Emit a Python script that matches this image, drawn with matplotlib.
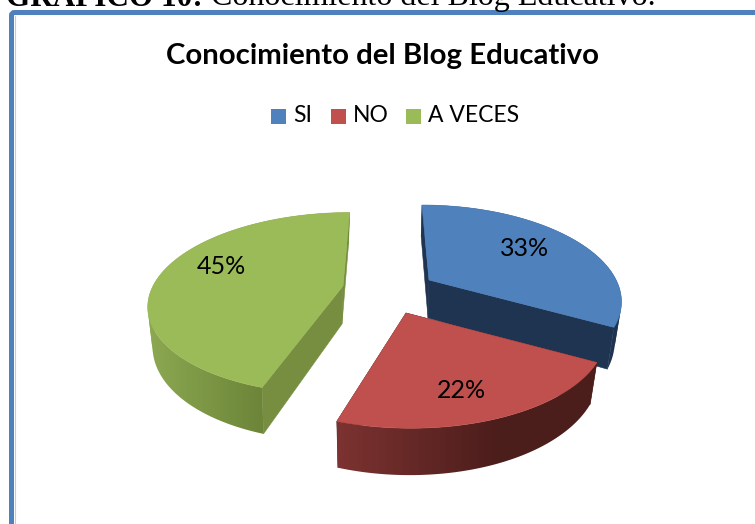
import numpy as np
import matplotlib
matplotlib.use("Agg")
import matplotlib.pyplot as plt
from matplotlib.patches import Polygon, FancyBboxPatch, Rectangle
from matplotlib.colors import LinearSegmentedColormap

# ---- data ----
title = "Conocimiento del Blog Educativo"
categories = ["SI", "NO", "A VECES"]
shares = [33, 22, 45]
caption_bold = "GRÁFICO 10:"
caption_rest = "Conocimiento del Blog Educativo."

# ---- styles ----
top_colors = ["#4f81bd", "#c0504d", "#9bbb59"]
wall_left = ["#1f3450", "#7d3331", "#8ca851"]
wall_right = ["#1f3450", "#4b1d1b", "#6c8539"]
wall_range = [(420, 625), (334, 500), (150, 262)]
radial_colors = ["#1f3450", "#4b1d1b", "#778e41"]
apexes = [(429, 280), (406, 313), (343, 286)]
scales = [0.985, 1.03, 1.0]
y_scales = [1.0, 1.0, 0.965]
label_pos = [(525, 249), (461, 391), (221, 266)]
RX, RY, K, CX, DEPTH = 190, 90.6, 0.19, 385, 38

plt.rcParams["font.family"] = ["Lato", "DejaVu Sans"]
fig = plt.figure(figsize=(7.55, 5.24), dpi=100)
ax = fig.add_axes([0, 0, 1, 1])
ax.set_xlim(0, 755)
ax.set_ylim(524, 0)
ax.axis("off")


def project(apex, theta, scale, y_scale):
    t = np.radians(theta)
    u, v = np.sin(t), -np.cos(t)
    s = 1 / (1 - K * v)
    x = apex[0] + scale * RX * u * s + (apex[0] - CX) * (s - 1)
    y = apex[1] + y_scale * scale * RY * v * s
    return x, y, s


def lower(apex, x, y, s):
    return apex[0] + 0.97 * (x - apex[0]) - 1, y + DEPTH * s


def signed_area(poly):
    xs, ys = np.array(poly).T
    return 0.5 * np.sum(xs * np.roll(ys, -1) - np.roll(xs, -1) * ys)


# frame
ax.add_patch(FancyBboxPatch((11.5, 12.5), 800, 600, boxstyle="round,pad=0,rounding_size=3",
                            fc="white", ec="#4f81bd", lw=3.6, zorder=1))
ax.plot([14.7, 14.7], [16, 524], color="#b9cde5", lw=0.8, zorder=1)

# caption clipped by the top of the picture
ax.text(6, 5.5, caption_bold, family="Liberation Serif", weight="bold", fontsize=22.5,
        color="black", va="baseline", ha="left", zorder=2)
ax.text(211, 5.5, caption_rest, family="Liberation Serif", fontsize=23,
        color="black", va="baseline", ha="left", zorder=2)

# title and legend
ax.text(382, 56, title, weight="bold", fontsize=21.2, ha="center", va="center", color="black", zorder=2)
legend_x = [271, 331, 406]
text_x = [293, 353, 428]
for lx, tx, col, name in zip(legend_x, text_x, top_colors, categories):
    ax.add_patch(Rectangle((lx, 108.5), 14.5, 15, fc=col, ec="none", zorder=2))
    ax.text(tx, 116, name, fontsize=16.5, ha="left", va="center", color="black", zorder=2)

# slices
edges = np.concatenate([[0], np.cumsum(shares)]) / sum(shares) * 360
order = [2, 0, 1]
for i in order:
    a0, a1 = edges[i], edges[i + 1]
    apex = apexes[i]
    thetas = np.linspace(a0, a1, 160)
    pts = [project(apex, t, scales[i], y_scales[i]) for t in thetas]
    z = 3 + order.index(i) * 3
    ab = (apex[0] - 1, apex[1] + DEPTH)

    # the two straight faces
    for t_pts in (pts[0], pts[-1]):
        bx, by = lower(apex, *t_pts)
        col = radial_colors[i]
        ax.add_patch(Polygon([apex, t_pts[:2], (bx, by), ab], closed=True, fc=col, ec=col, lw=0.4, zorder=z))

    # curved wall with a horizontal colour gradient; split where the strip folds over
    x0, x1 = wall_range[i]
    cmap = LinearSegmentedColormap.from_list("w", [wall_left[i], wall_right[i]])
    ramp = np.clip((np.arange(755) + 0.5 - x0) / (x1 - x0), 0, 1)[None, :]
    signs = [np.sign(signed_area([p[:2], q[:2], lower(apex, *q), lower(apex, *p)]))
             for p, q in zip(pts[:-1], pts[1:])]
    starts = [0] + [k for k in range(1, len(signs)) if signs[k] != signs[k - 1]] + [len(signs)]
    for s0, s1 in zip(starts[:-1], starts[1:]):
        run = pts[s0:s1 + 1]
        outline = [p[:2] for p in run] + [lower(apex, *p) for p in reversed(run)]
        wall = Polygon(outline, closed=True, fc="none", ec="none")
        ax.add_patch(wall)
        img = ax.imshow(ramp, cmap=cmap, aspect="auto", vmin=0, vmax=1,
                        extent=(0, 755, 524, 0), zorder=z + 1, interpolation="nearest")
        img.set_clip_path(wall)

    # top surface
    ax.add_patch(Polygon([apex] + [p[:2] for p in pts], closed=True, fc=top_colors[i],
                         ec=top_colors[i], lw=0.4, zorder=z + 2))

ax.set_xlim(0, 755)
ax.set_ylim(524, 0)

for v, (x, y) in zip(shares, label_pos):
    ax.text(x, y, f"{v}%", fontsize=18, ha="center", va="center", color="black", zorder=20)

fig.savefig("out.png", dpi=100)
